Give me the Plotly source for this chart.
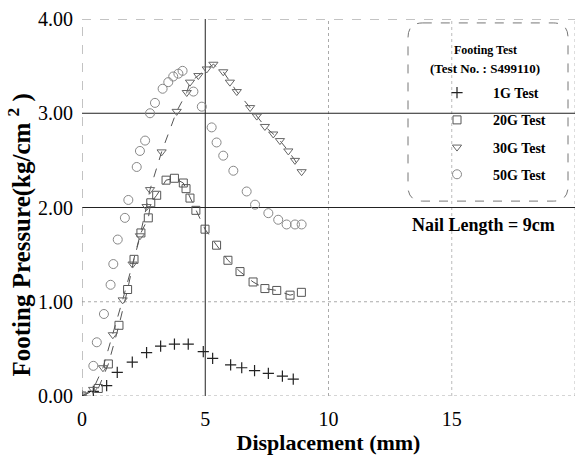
import plotly.graph_objects as go

# ---- data ----
x_1g = [0, 0.46, 1.0, 1.43, 2.04, 2.62, 3.19, 3.75, 4.31, 4.92, 5.3, 6.03, 6.48, 7.0, 7.56, 8.13, 8.57]
y_1g = [0, 0.05, 0.11, 0.25, 0.36, 0.46, 0.53, 0.55, 0.55, 0.47, 0.40, 0.33, 0.30, 0.27, 0.24, 0.21, 0.18]

x_20g = [0, 0.66, 1.07, 1.5, 1.85, 2.11, 2.39, 2.69, 2.79, 3.03, 3.41, 3.75, 4.11, 4.22, 4.38, 4.62,
         4.99, 5.46, 5.92, 6.41, 6.94, 7.42, 7.9, 8.44, 8.9]
y_20g = [0, 0.08, 0.34, 0.75, 1.13, 1.45, 1.73, 1.89, 2.05, 2.13, 2.29, 2.31, 2.26, 2.2, 2.1, 1.97,
         1.77, 1.6, 1.44, 1.32, 1.21, 1.14, 1.12, 1.07, 1.1]

x_30g = [0, 0.45, 0.85, 1.25, 1.65, 2.05, 2.35, 2.62, 2.76, 3.23, 3.84, 4.25, 4.38, 4.72, 5.06, 5.33,
         5.73, 6.0, 6.28, 6.82, 7.09, 7.42, 7.76, 8.03, 8.37, 8.64, 8.91]
y_30g = [0, 0.07, 0.3, 0.65, 1.02, 1.4, 1.7, 2.01, 2.19, 2.59, 3.02, 3.22, 3.33, 3.40, 3.47, 3.52,
         3.44, 3.33, 3.23, 3.06, 2.97, 2.86, 2.78, 2.71, 2.60, 2.50, 2.38]

x_50g = [0, 0.46, 0.6, 0.89, 1.16, 1.27, 1.45, 1.74, 1.88, 2.22, 2.35, 2.56, 2.76, 2.96, 3.27, 3.5,
         3.7, 3.91, 4.08, 4.52, 4.86, 5.26, 5.46, 5.73, 6.14, 6.68, 7.02, 7.56, 7.96, 8.3, 8.64, 8.91]
y_50g = [0, 0.32, 0.57, 0.87, 1.18, 1.40, 1.66, 1.89, 2.08, 2.43, 2.60, 2.71, 3.0, 3.11, 3.26, 3.33,
         3.39, 3.42, 3.45, 3.23, 3.07, 2.85, 2.69, 2.55, 2.39, 2.17, 2.03, 1.94, 1.87, 1.82, 1.82, 1.82]

x_ticks = [0, 5, 10, 15, 20]
y_ticks = [0, 1, 2, 3, 4]
y_tick_text = ["0.00", "1.00", "2.00", "3.00", "4.00"]

SERIF = "Liberation Serif"

fig = go.Figure()

# dashed connecting lines
fig.add_trace(go.Scatter(x=x_20g, y=y_20g, mode="lines", showlegend=False, hoverinfo="skip",
                         line=dict(color="#555", width=1, dash="dash")))
fig.add_trace(go.Scatter(x=x_30g, y=y_30g, mode="lines", showlegend=False, hoverinfo="skip",
                         line=dict(color="#555", width=1, dash="dash")))

fig.add_trace(go.Scatter(x=x_1g, y=y_1g, mode="markers", name="1G Test", legendgroup="a",
                         marker=dict(symbol="cross-thin-open", size=8, color="#222", line=dict(color="#222", width=1.2))))
fig.add_trace(go.Scatter(x=x_20g, y=y_20g, mode="markers", name="20G Test", legendgroup="b",
                         marker=dict(symbol="square-open", size=8, color="#555", line=dict(width=1))))
fig.add_trace(go.Scatter(x=x_30g, y=y_30g, mode="markers", name="30G Test", legendgroup="c",
                         marker=dict(symbol="triangle-down-open", size=8, color="#666", line=dict(width=1))))
fig.add_trace(go.Scatter(x=x_50g, y=y_50g, mode="markers", name="50G Test", legendgroup="d",
                         marker=dict(symbol="circle-open", size=9, color="#888", line=dict(width=1))))

shapes = []
# grid lines
for xv, style in [(5, dict(color="#222", width=1)), (10, dict(color="#aaa", width=1, dash="dot")),
                  (15, dict(color="#bbb", width=1, dash="dot")), (20, dict(color="#bbb", width=1, dash="dot"))]:
    shapes.append(dict(type="line", xref="x", yref="y", x0=xv, x1=xv, y0=0, y1=4, line=style, layer="below"))
for yv, style in [(3, dict(color="#222", width=1)), (2, dict(color="#222", width=1)),
                  (1, dict(color="#aaa", width=1, dash="dot")), (4, dict(color="#888", width=1, dash="dash")),
                  (0, dict(color="#aaa", width=1, dash="dot"))]:
    shapes.append(dict(type="line", xref="x", yref="y", x0=0, x1=20, y0=yv, y1=yv, line=style, layer="below"))
shapes.append(dict(type="line", xref="x", yref="y", x0=0, x1=0, y0=0, y1=4,
                   line=dict(color="#888", width=1, dash="dash"), layer="below"))

# rounded legend box (pixel coords -> paper coords)
L, R, T, B = 82, 575, 13, 396
def px(xp): return (xp - L) / (R - L)
def py(yp): return (B - yp) / (B - T)
x0, x1, y0, y1, r = px(408), px(568), py(198), py(17), 0.03
ry = r * (R - L) / (B - T)
path = (f"M {x0+r},{y1} L {x1-r},{y1} Q {x1},{y1} {x1},{y1-ry} L {x1},{y0+ry} Q {x1},{y0} {x1-r},{y0} "
        f"L {x0+r},{y0} Q {x0},{y0} {x0},{y0+ry} L {x0},{y1-ry} Q {x0},{y1} {x0+r},{y1} Z")
shapes.append(dict(type="path", xref="paper", yref="paper", path=path,
                   line=dict(color="#777", width=1, dash="dash"), fillcolor="white", layer="below"))

def note(text, xp, yp, size, angle=0):
    return dict(text=text, xref="paper", yref="paper", x=px(xp), y=py(yp), textangle=angle,
                xanchor="center", yanchor="middle", showarrow=False,
                font=dict(family=SERIF, size=size, weight="bold"))

fig.update_layout(
    width=583, height=464,
    margin=dict(l=L, r=583 - R, t=T, b=464 - B),
    plot_bgcolor="white", paper_bgcolor="white",
    font=dict(family=SERIF, color="black"),
    shapes=shapes,
    showlegend=True,
    legend=dict(
        x=px(421), y=py(72), xanchor="left", yanchor="top",
        bgcolor="rgba(0,0,0,0)", borderwidth=0,
        font=dict(family=SERIF, size=14, weight="bold"),
        tracegroupgap=6, itemwidth=62,
    ),
    xaxis=dict(range=[0, 20], tickvals=x_ticks, ticktext=[str(v) for v in x_ticks],
               showgrid=False, zeroline=False, showline=False, ticks="",
               tickfont=dict(family=SERIF, size=20), ticklabelstandoff=9,
               title=dict(text="Displacement (mm)", font=dict(family=SERIF, size=22, weight="bold"), standoff=2)),
    yaxis=dict(range=[0, 4], tickvals=y_ticks, ticktext=y_tick_text,
               showgrid=False, zeroline=False, showline=False, ticks="",
               tickfont=dict(family=SERIF, size=20), ticklabelstandoff=8),
    annotations=[
        note("Footing Pressure(kg/cm <sup>2</sup> )", 20, 233, 25, angle=-90),
        note("Nail Length = 9cm", 483, 222, 18),
        note("Footing Test", 485, 45, 12),
        note("(Test No. : S499110)", 485, 63, 13),
    ],
)

fig.write_html("out.html")
